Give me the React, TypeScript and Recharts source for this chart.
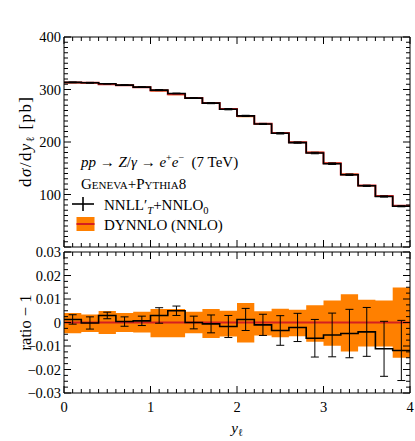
import React from "react";
import { ComposedChart, Line, Area, Scatter, ErrorBar, XAxis, YAxis, Label, Legend } from "recharts";

// bin edges in y_l
const binEdges = [0, 0.2, 0.4, 0.6, 0.8, 1.0, 1.2, 1.4, 1.6, 1.8, 2.0, 2.2, 2.4, 2.6, 2.8, 3.0, 3.2, 3.4, 3.6, 3.8, 4.0];

// dsigma/dy [pb]
const genevaXs = [313.6, 312.8, 310.9, 308.4, 304.6, 298.9, 292.5, 283.6, 274.0, 262.5, 249.7, 234.4, 216.6, 198.9, 179.0, 158.7, 137.7, 116.6, 96.2, 77.6];
const dynnloXs = [313.2, 312.9, 310.0, 308.3, 304.4, 298.0, 291.0, 283.6, 274.2, 263.0, 249.4, 234.6, 217.3, 199.3, 180.2, 159.5, 138.3, 117.1, 97.3, 78.5];

// ratio to DYNNLO - 1
const genevaRatio = [0.0013, -0.0002, 0.003, 0.0004, 0.0007, 0.003, 0.005, 0.0, -0.0006, -0.0017, 0.0013, -0.001, -0.0034, -0.0021, -0.0067, -0.0053, -0.0047, -0.004, -0.0112, -0.0119];
const genevaRelErr = [0.002, 0.0026, 0.0014, 0.002, 0.002, 0.0033, 0.002, 0.0027, 0.0038, 0.0047, 0.0047, 0.0045, 0.0063, 0.006, 0.008, 0.0093, 0.0103, 0.0104, 0.0117, 0.0128];
const dynnloUp = [0.004, 0.0034, 0.0049, 0.004, 0.0046, 0.0057, 0.0057, 0.0046, 0.0057, 0.005, 0.0083, 0.0048, 0.0059, 0.0054, 0.0073, 0.0094, 0.012, 0.0097, 0.0094, 0.0149];
const dynnloDown = [-0.0046, -0.004, -0.0049, -0.004, -0.0043, -0.0063, -0.0063, -0.0046, -0.0066, -0.006, -0.0085, -0.0055, -0.0063, -0.0059, -0.0082, -0.0099, -0.0123, -0.0102, -0.0102, -0.015];

const xMajorLabels = ["0", "1", "2", "3", "4"];
const topYLabels = ["100", "200", "300", "400"];
const ratioYTicks = [-0.03, -0.02, -0.01, 0, 0.01, 0.02, 0.03];
const ratioYLabels = ["\u22120.03", "\u22120.02", "\u22120.01", "0", "0.01", "0.02", "0.03"];

const ORANGE = "#ff8000";
const RED = "#d42020";
const FONT = "'Liberation Serif', serif";

const last = binEdges.length - 2;
const topEdges = binEdges.map((x, i) => {
  const k = Math.min(i, last);
  return {
    x,
    gen: genevaXs[k],
    dyn: dynnloXs[k],
    band: [dynnloXs[k] * (1 + dynnloDown[k]), dynnloXs[k] * (1 + dynnloUp[k])],
  };
});
const topCenters = genevaXs.map((v, i) => ({
  x: (binEdges[i] + binEdges[i + 1]) / 2,
  gen: v,
  err: v * genevaRelErr[i],
}));
const ratioEdges = binEdges.map((x, i) => {
  const k = Math.min(i, last);
  return { x, r: genevaRatio[k], ref: 0, band: [dynnloDown[k], dynnloUp[k]] };
});
const ratioCenters = genevaRatio.map((v, i) => ({
  x: (binEdges[i] + binEdges[i + 1]) / 2,
  r: v,
  err: genevaRelErr[i],
}));

const xTicks = Array.from({ length: 41 }, (_, i) => i / 10);
const topYTicks = Array.from({ length: 41 }, (_, i) => i * 10);
const ratioMinor = Array.from({ length: 25 }, (_, i) => (i * 25 - 300) / 10000);

const near = (a: number, b: number) => Math.abs(a - b) < 1e-7;

function makeTick(side: string, isMajor: (v: number) => boolean, label?: (v: number) => string | null) {
  return (p: any) => {
    const { x, y, payload } = p;
    const v = payload.value as number;
    const len = isMajor(v) ? 7 : 4;
    let x2 = x, y2 = y;
    if (side === "left") x2 = x + len;
    if (side === "right") x2 = x - len;
    if (side === "bottom") y2 = y - len;
    if (side === "top") y2 = y + len;
    const txt = label ? label(v) : null;
    return (
      <g>
        <line x1={x} y1={y} x2={x2} y2={y2} stroke="#000" strokeWidth={1} />
        {txt !== null && side === "left" && (
          <text x={x - 3} y={y + 5} textAnchor="end" fontFamily={FONT} fontSize={14.5} fill="#000">{txt}</text>
        )}
        {txt !== null && side === "bottom" && (
          <text x={x} y={y + 19} textAnchor="middle" fontFamily={FONT} fontSize={14.5} fill="#000">{txt}</text>
        )}
      </g>
    );
  };
}

const xMajor = (v: number) => near(v, Math.round(v));
const topMajor = (v: number) => near(v % 100, 0);
const ratioMajor = (v: number) => near(v * 100, Math.round(v * 100));

function LegendBox() {
  return (
    <svg width={220} height={92} style={{ display: "block" }} fontFamily={FONT} fontSize={15}>
      <text x={17} y={19} style={{ whiteSpace: "pre" }}>
        <tspan fontStyle="italic">pp</tspan>
        <tspan> → </tspan>
        <tspan fontStyle="italic">Z</tspan>
        <tspan>/</tspan>
        <tspan fontStyle="italic">γ</tspan>
        <tspan> → </tspan>
        <tspan fontStyle="italic">e</tspan>
        <tspan dy={-6} fontSize={10}>+</tspan>
        <tspan dy={6} fontStyle="italic">e</tspan>
        <tspan dy={-6} fontSize={10}>−</tspan>
        <tspan dy={6}>  (7 TeV)</tspan>
      </text>
      <text x={17} y={41} style={{ fontVariant: "small-caps" }}>Geneva+Pythia8</text>
      <line x1={8} x2={30} y1={56} y2={56} stroke="#000" strokeWidth={1.6} />
      <line x1={19} x2={19} y1={49} y2={63} stroke="#000" strokeWidth={1.6} />
      <text x={40} y={62} style={{ whiteSpace: "pre" }}>
        <tspan>NNLL′</tspan>
        <tspan dy={4} fontSize={10.5} fontStyle="italic">T</tspan>
        <tspan dy={-4}>+NNLO</tspan>
        <tspan dy={4} fontSize={10.5}>0</tspan>
      </text>
      <rect x={12.5} y={69} width={18} height={14} fill={ORANGE} />
      <line x1={12.5} x2={30.5} y1={76} y2={76} stroke={RED} strokeWidth={2} />
      <text x={40} y={82}>DYNNLO (NNLO)</text>
    </svg>
  );
}

const frame = { stroke: "#000", strokeWidth: 1 };

export default function App() {
  return (
    <div style={{ position: "absolute", left: 0, top: 0, width: 415, height: 441, background: "#fff" }}>
      <div style={{ position: "absolute", left: 0, top: 0 }}>
        <ComposedChart width={415} height={250} margin={{ top: 36, right: 4, bottom: 2, left: 0 }}>
          <XAxis xAxisId="b" dataKey="x" type="number" domain={[0, 4]} allowDataOverflow ticks={xTicks} interval={0}
            height={1} tickSize={0} tickMargin={0} tickLine={false} axisLine={frame}
            tick={makeTick("bottom", xMajor)} />
          <XAxis xAxisId="t" orientation="top" dataKey="x" type="number" domain={[0, 4]} allowDataOverflow ticks={xTicks} interval={0}
            height={1} tickSize={0} tickMargin={0} tickLine={false} axisLine={frame}
            tick={makeTick("top", xMajor)} />
          <YAxis yAxisId="l" type="number" domain={[0, 400]} allowDataOverflow ticks={topYTicks} interval={0}
            width={64} tickSize={0} tickMargin={0} tickLine={false} axisLine={frame}
            tick={makeTick("left", topMajor, (v) => (v > 0 && near(v % 100, 0) ? topYLabels[Math.round(v / 100) - 1] : null))}>
            <Label content={(p: any) => {
              const vb = p.viewBox;
              const cx = vb.x + 31;
              const cy = vb.y + vb.height / 2;
              return (
                <text x={cx} y={cy} transform={`rotate(-90, ${cx}, ${cy})`} textAnchor="middle" fontFamily={FONT} fontSize={17}
                  textLength={90} lengthAdjust="spacing" style={{ whiteSpace: "pre" }}>
                  <tspan>d</tspan>
                  <tspan fontStyle="italic">σ</tspan>
                  <tspan>/d</tspan>
                  <tspan fontStyle="italic">y</tspan>
                  <tspan dy={3} fontSize={11.5}>ℓ</tspan>
                  <tspan dy={-3}> [pb]</tspan>
                </text>
              );
            }} />
          </YAxis>
          <YAxis yAxisId="r" orientation="right" type="number" domain={[0, 400]} allowDataOverflow ticks={topYTicks} interval={0}
            width={1} tickSize={0} tickMargin={0} tickLine={false} axisLine={frame}
            tick={makeTick("right", topMajor)} />
          <Area data={topEdges} xAxisId="b" yAxisId="l" dataKey="band" type="stepAfter" stroke="none" fill={ORANGE} fillOpacity={1} isAnimationActive={false} />
          <Line data={topEdges} xAxisId="b" yAxisId="l" dataKey="dyn" type="stepAfter" stroke={RED} strokeWidth={2} dot={false} isAnimationActive={false} />
          <Line data={topEdges} xAxisId="b" yAxisId="l" dataKey="gen" type="stepAfter" stroke="#000" strokeWidth={1.6} dot={false} isAnimationActive={false} />
          <Scatter data={topCenters} xAxisId="b" yAxisId="l" dataKey="gen" shape={() => <g />} isAnimationActive={false}>
            <ErrorBar dataKey="err" direction="y" width={4} stroke="#000" strokeWidth={1} isAnimationActive={false} />
          </Scatter>
          <Line data={topEdges} xAxisId="t" yAxisId="r" dataKey="gen" stroke="none" dot={false} isAnimationActive={false} />
          <Legend layout="vertical" align="center" verticalAlign="middle" wrapperStyle={{ left: 64, top: 148, width: 220 }} content={() => <LegendBox />} />
        </ComposedChart>
      </div>
      <div style={{ position: "absolute", left: 0, top: 238 }}>
        <ComposedChart width={415} height={203} margin={{ top: 13, right: 4, bottom: 47, left: 0 }}>
          <XAxis xAxisId="b" dataKey="x" type="number" domain={[0, 4]} allowDataOverflow ticks={xTicks} interval={0}
            height={1} tickSize={0} tickMargin={0} tickLine={false} axisLine={frame}
            tick={makeTick("bottom", xMajor, (v) => (xMajor(v) ? xMajorLabels[Math.round(v)] : null))}>
            <Label content={(p: any) => {
              const vb = p.viewBox;
              const cx = vb.x + vb.width / 2;
              const cy = vb.y + 40;
              return (
                <text x={cx} y={cy} textAnchor="middle" fontFamily={FONT} fontSize={15}>
                  <tspan fontStyle="italic">y</tspan>
                  <tspan dy={3} fontSize={10.5}>ℓ</tspan>
                </text>
              );
            }} />
          </XAxis>
          <XAxis xAxisId="t" orientation="top" dataKey="x" type="number" domain={[0, 4]} allowDataOverflow ticks={xTicks} interval={0}
            height={1} tickSize={0} tickMargin={0} tickLine={false} axisLine={frame}
            tick={makeTick("top", xMajor)} />
          <YAxis yAxisId="l" type="number" domain={[-0.03, 0.03]} allowDataOverflow ticks={ratioMinor} interval={0}
            width={64} tickSize={0} tickMargin={0} tickLine={false} axisLine={frame}
            tick={makeTick("left", ratioMajor, (v) => {
              const idx = ratioYTicks.findIndex((t) => near(t, v));
              return idx >= 0 ? ratioYLabels[idx] : null;
            })}>
            <Label content={(p: any) => {
              const vb = p.viewBox;
              const cx = vb.x + 31;
              const cy = vb.y + vb.height / 2;
              return (
                <text x={cx} y={cy} transform={`rotate(-90, ${cx}, ${cy})`} textAnchor="middle" fontFamily={FONT} fontSize={16.5}
                  style={{ whiteSpace: "pre" }}>
                  ratio − 1
                </text>
              );
            }} />
          </YAxis>
          <YAxis yAxisId="r" orientation="right" type="number" domain={[-0.03, 0.03]} allowDataOverflow ticks={ratioMinor} interval={0}
            width={1} tickSize={0} tickMargin={0} tickLine={false} axisLine={frame}
            tick={makeTick("right", ratioMajor)} />
          <Area data={ratioEdges} xAxisId="b" yAxisId="l" dataKey="band" type="stepAfter" stroke="none" fill={ORANGE} fillOpacity={1} isAnimationActive={false} />
          <Line data={ratioEdges} xAxisId="b" yAxisId="l" dataKey="ref" type="stepAfter" stroke={RED} strokeWidth={2} dot={false} isAnimationActive={false} />
          <Line data={ratioEdges} xAxisId="b" yAxisId="l" dataKey="r" type="stepAfter" stroke="#000" strokeWidth={1.6} dot={false} isAnimationActive={false} />
          <Scatter data={ratioCenters} xAxisId="b" yAxisId="l" dataKey="r" shape={() => <g />} isAnimationActive={false}>
            <ErrorBar dataKey="err" direction="y" width={4} stroke="#000" strokeWidth={1} isAnimationActive={false} />
          </Scatter>
          <Line data={ratioEdges} xAxisId="t" yAxisId="r" dataKey="r" stroke="none" dot={false} isAnimationActive={false} />
        </ComposedChart>
      </div>
    </div>
  );
}
